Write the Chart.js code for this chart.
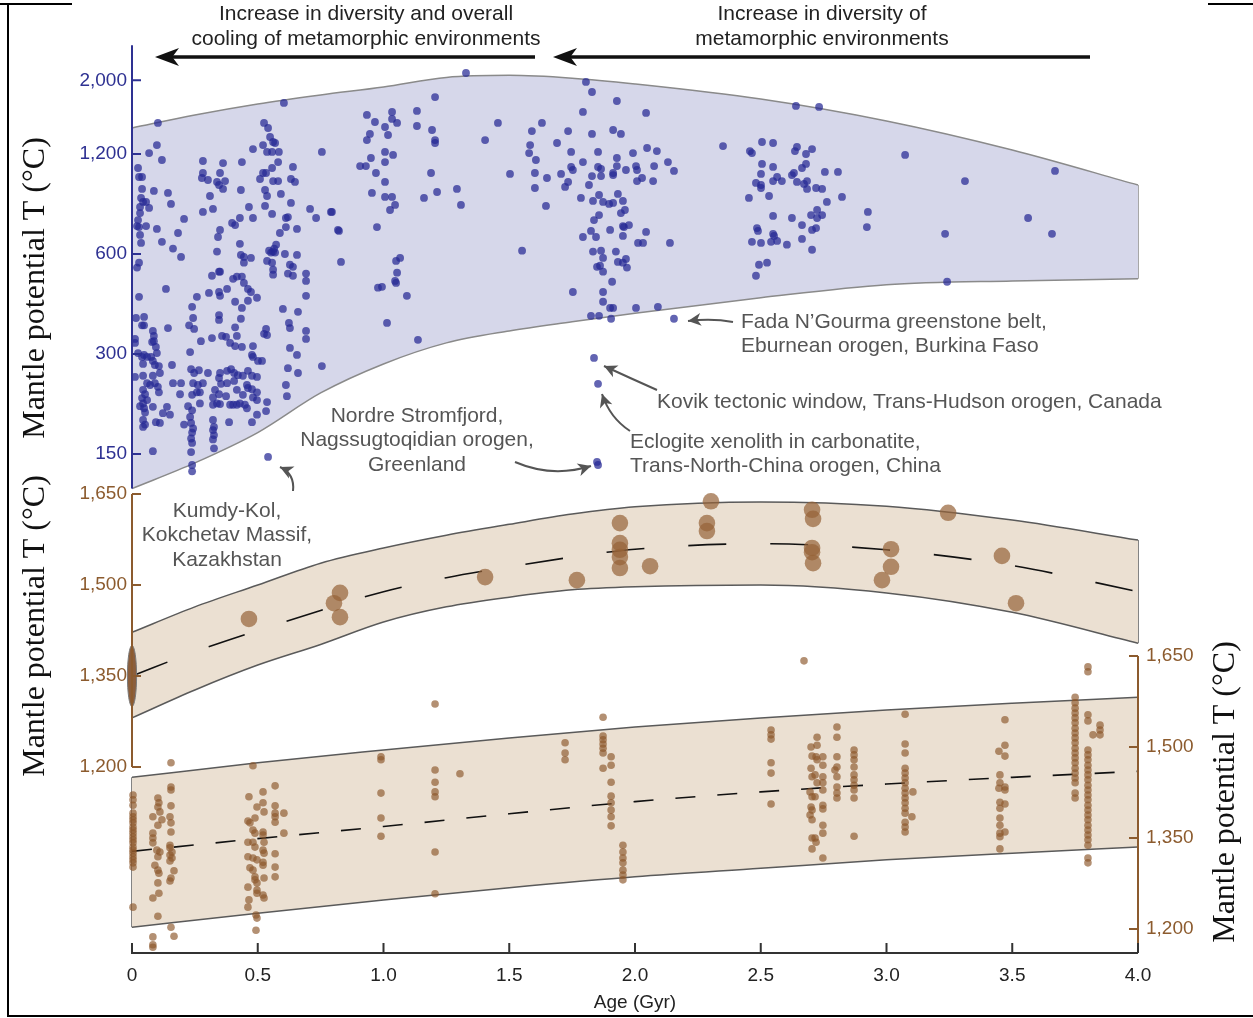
<!DOCTYPE html>
<html lang="en">
<head>
<meta charset="UTF-8">
<title>Metamorphic thermal gradients and mantle potential temperature through time</title>
<script src="https://cdn.jsdelivr.net/npm/chart.js"></script>
<style>
  html, body { margin: 0; padding: 0; background: #fff; }
  #wrap { width: 1253px; height: 1018px; }
</style>
</head>
<body>
<div id="wrap"><canvas id="chart" width="1253" height="1018"></canvas></div>
<script>
// ---- tick labels ----
const ageTicks = [0, 0.5, 1, 1.5, 2, 2.5, 3, 3.5, 4];
const topTicks = [150, 300, 600, 1200, 2000];
const midTicks = [1200, 1350, 1500, 1650];
const botTicks = [1200, 1350, 1500, 1650];

// ---- top panel: envelope of metamorphic samples (log axis) ----
const topGrid = [0, 0.25, 0.5, 0.75, 1.0, 1.25, 1.5, 1.75, 2.0, 2.5, 3.0, 3.5, 4.0];
const topBandUpper = [1437, 1572, 1697, 1806, 1909, 2040, 2070, 2030, 1950, 1757, 1509, 1234, 968];
const topBandLower = [118, 141, 174, 229, 280, 324, 352, 375, 398, 443, 485, 498, 505];

// ---- middle panel: mantle potential T model ----
const midGrid = [0, 0.25, 0.5, 0.75, 1.0, 1.25, 1.5, 1.75, 2.0, 2.5, 3.0, 3.5, 4.0];
const midBandUpper = [1422, 1464, 1500, 1536, 1561, 1582, 1600, 1617, 1629, 1637, 1630, 1607, 1574];
const midBandLower = [1281, 1327, 1368, 1402, 1439, 1464, 1480, 1492, 1497, 1500, 1487, 1455, 1404];
const midMean = [1350, 1390, 1425, 1458, 1489, 1512, 1530, 1546, 1559, 1568, 1558, 1532, 1489];
const presentDayTp = 1350;

// ---- bottom panel: mantle potential T from basalts ----
const botGrid = [0, 0.5, 1.0, 1.5, 2.0, 2.5, 3.0, 3.5, 4.0];
const botBandUpper = [1450, 1474, 1495, 1515, 1533, 1548, 1561, 1572, 1582];
const botBandLower = [1203, 1226, 1248, 1268, 1286, 1300, 1314, 1325, 1335];
const botMean = [1328, 1349, 1369, 1390, 1410, 1426, 1439, 1450, 1460];

// [age Gyr, value]
const topSamples = [
  [0.604,1710],[0.103,1488],[0.525,1488],[0.541,1437],[0.099,1277],[0.068,1208],[0.549,1350],[0.561,1304],[0.569,1295],[0.521,1277],
  [0.481,1242],[0.537,1217],[0.557,1217],[0.584,1217],[0.755,1217],[0.119,1151],[0.282,1143],[0.362,1127],[0.437,1135],[0.581,1135],
  [0.024,1089],[0.028,1023],[0.040,1023],[0.282,1052],[0.350,1052],[0.557,1089],[0.521,1052],[0.533,1052],[0.640,1097],[0.278,1016],
  [0.302,1002],[0.338,989],[0.346,968],[0.370,995],[0.509,1009],[0.561,995],[0.581,995],[0.632,1009],[0.648,989],[0.040,942],
  [0.087,929],[0.143,916],[0.155,849],[0.362,942],[0.433,935],[0.529,935],[0.537,897],[0.592,910],[0.036,885],[0.044,861],
  [0.056,861],[0.032,831],[0.068,826],[0.310,897],[0.322,820],[0.282,803],[0.465,831],[0.529,837],[0.632,855],[0.708,820],
  [0.732,770],[0.791,803],[0.032,797],[0.024,759],[0.557,792],[0.207,765],[0.398,744],[0.410,733],[0.429,770],[0.481,770],
  [0.612,770],[0.620,775],[0.612,723],[0.656,714],[0.020,728],[0.028,723],[0.056,728],[0.099,714],[0.350,709],[0.342,675],
  [0.819,709],[0.183,694],[0.032,685],[0.036,648],[0.119,653],[0.588,694],[0.573,640],[0.565,623],[0.553,606],[0.429,644],
  [0.163,623],[0.195,588],[0.338,610],[0.433,596],[0.445,588],[0.445,565],[0.473,584],[0.545,614],[0.561,610],[0.569,606],
  [0.608,600],[0.656,596],[0.028,565],[0.020,546],[0.537,572],[0.557,565],[0.561,538],[0.561,520],[0.628,557],[0.640,549],
  [0.620,524],[0.640,516],[0.692,524],[0.692,498],[0.346,531],[0.350,531],[0.318,516],[0.402,505],[0.417,513],[0.437,513],
  [0.445,491],[0.461,471],[0.473,461],[0.135,471],[0.306,458],[0.346,461],[0.350,449],[0.378,471],[0.258,446],[0.028,446],
  [0.692,449],[0.461,434],[0.497,443],[0.410,431],[0.437,413],[0.239,416],[0.600,410],[0.660,402],[0.016,385],[0.048,388],
  [0.040,366],[0.048,366],[0.243,385],[0.227,366],[0.346,393],[0.346,380],[0.433,383],[0.143,359],[0.247,357],[0.410,361],
  [0.533,357],[0.525,345],[0.537,342],[0.624,372],[0.628,359],[0.692,352],[0.692,333],[0.083,352],[0.087,340],[0.080,326],
  [0.087,328],[0.095,315],[0.099,302],[0.012,333],[0.012,324],[0.318,335],[0.358,340],[0.374,338],[0.417,340],[0.274,328],
  [0.390,324],[0.410,317],[0.437,315],[0.481,317],[0.628,313],[0.231,304],[0.024,302],[0.040,294],[0.048,298],[0.060,294],
  [0.076,294],[0.083,286],[0.477,298],[0.481,294],[0.501,286],[0.517,286],[0.656,298],[0.044,280],[0.091,278],[0.107,276],
  [0.111,263],[0.159,278],[0.755,276],[0.620,272],[0.012,256],[0.044,258],[0.083,258],[0.235,270],[0.247,263],[0.266,268],
  [0.302,263],[0.350,263],[0.378,267],[0.394,270],[0.406,263],[0.421,259],[0.441,258],[0.461,267],[0.477,258],[0.497,256],
  [0.660,263],[0.060,245],[0.072,242],[0.091,245],[0.103,239],[0.163,245],[0.195,245],[0.243,245],[0.262,242],[0.282,245],
  [0.346,254],[0.354,244],[0.378,245],[0.406,249],[0.457,242],[0.461,237],[0.477,235],[0.497,230],[0.612,242],[0.044,234],
  [0.052,227],[0.040,221],[0.060,218],[0.044,213],[0.107,230],[0.191,227],[0.239,226],[0.258,230],[0.270,230],[0.330,234],
  [0.322,222],[0.346,227],[0.374,224],[0.417,234],[0.441,226],[0.481,222],[0.497,218],[0.616,224],[0.537,215],[0.032,209],
  [0.048,206],[0.052,200],[0.083,208],[0.123,199],[0.139,208],[0.151,197],[0.223,209],[0.239,203],[0.231,194],[0.270,213],
  [0.322,211],[0.338,213],[0.350,212],[0.390,211],[0.402,211],[0.417,211],[0.429,213],[0.449,211],[0.457,206],[0.533,202],
  [0.497,197],[0.044,190],[0.052,184],[0.044,181],[0.095,187],[0.111,186],[0.207,184],[0.235,186],[0.243,179],[0.239,174],
  [0.322,190],[0.326,181],[0.322,177],[0.326,171],[0.322,166],[0.386,187],[0.477,187],[0.235,167],[0.239,162],[0.235,152],
  [0.326,156],[0.083,153],[0.239,139],[0.239,133],[0.541,147],
  [1.328,2104],[1.205,1781],[1.805,1978],[1.829,1844],[1.928,1733],[0.934,1573],[0.966,1498],[1.006,1447],[1.034,1606],[1.034,1530],
  [1.054,1488],[1.133,1618],[1.133,1457],[2.044,1595],[1.793,1606],[1.193,1417],[1.205,1322],[1.205,1295],[1.455,1488],[1.630,1488],
  [1.590,1407],[1.734,1407],[1.829,1379],[1.913,1417],[1.944,1379],[0.946,1379],[0.934,1322],[1.018,1369],[1.404,1322],[1.690,1295],
  [1.583,1277],[1.579,1208],[1.606,1151],[1.746,1217],[1.853,1217],[1.992,1208],[2.048,1251],[2.087,1225],[2.131,1135],[2.155,1067],
  [1.006,1217],[1.038,1192],[0.950,1167],[1.006,1135],[0.907,1104],[0.930,1104],[1.793,1135],[1.746,1097],[1.753,1074],[1.853,1097],
  [1.865,1082],[1.928,1167],[1.928,1104],[1.913,1052],[1.964,1074],[2.004,1104],[2.008,1074],[2.076,1104],[0.970,1052],[1.006,989],
  [1.189,1052],[1.503,1045],[1.602,1052],[1.650,1016],[1.706,1045],[1.734,989],[1.722,955],[1.829,1030],[1.865,1030],[1.817,968],
  [1.913,1037],[2.028,1016],[2.008,995],[2.072,995],[1.602,948],[0.954,916],[1.006,891],[1.034,891],[1.046,843],[1.026,814],
  [1.161,885],[1.213,922],[1.292,942],[1.308,843],[1.785,885],[1.833,867],[1.857,903],[1.873,861],[1.897,849],[1.913,855],
  [1.932,910],[1.952,867],[1.960,814],[1.944,797],[1.646,837],[0.795,803],[1.857,786],[1.837,759],[1.952,728],[1.976,733],
  [1.956,723],[1.901,709],[1.952,680],[2.044,699],[2.012,648],[2.032,648],[2.139,648],[0.823,704],[0.974,723],[1.825,704],
  [1.793,675],[1.845,675],[1.551,614],[1.833,610],[1.865,614],[1.873,584],[1.924,610],[1.932,568],[1.952,565],[1.964,580],
  [1.968,546],[1.849,549],[1.861,553],[1.873,531],[0.831,568],[1.050,572],[1.066,584],[1.054,527],[1.046,498],[1.050,491],
  [0.978,475],[0.994,478],[1.093,449],[1.909,495],[1.753,461],[1.873,461],[1.873,431],[1.901,413],[1.913,413],[2.004,413],
  [2.091,416],[1.825,391],[1.857,391],[1.905,383],[2.155,383],[1.014,372],[1.137,331],
  [2.640,1674],[2.732,1663],[2.350,1268],[2.505,1304],[2.549,1295],[2.457,1225],[2.465,1208],[2.644,1260],[2.636,1225],[2.704,1242],
  [2.680,1200],[3.074,1192],[2.505,1120],[2.549,1097],[2.501,1045],[2.565,1023],[2.584,995],[2.549,995],[2.481,982],[2.501,968],
  [2.501,948],[2.680,1120],[2.664,1089],[2.632,1052],[2.624,1037],[2.644,989],[2.684,995],[2.672,975],[2.684,942],[2.720,948],
  [2.744,942],[2.755,1060],[2.807,1060],[3.670,1067],[3.312,995],[2.453,885],[2.533,897],[2.823,891],[2.763,861],[2.549,781],
  [2.624,770],[2.664,733],[2.700,786],[2.724,814],[2.724,770],[2.744,786],[2.720,718],[2.704,709],[2.926,803],[2.922,723],
  [3.563,770],[2.485,718],[2.489,704],[2.549,690],[2.553,680],[3.233,690],[3.658,690],[2.465,653],[2.501,648],[2.541,653],
  [2.565,657],[2.604,640],[2.664,666],[2.704,618],[2.493,557],[2.525,565],[2.481,516],[3.241,495],
  [1.837,292],[1.853,244],[1.849,142],[1.853,139]
];

const midSamples = [
  [0.465,1444],[0.827,1487],[0.803,1470],[0.827,1447],[1.404,1513],[1.769,1508],[1.940,1602],[1.940,1569],[1.940,1558],
  [1.940,1546],[1.940,1528],[2.060,1531],[2.302,1638],[2.286,1602],[2.286,1589],[2.704,1624],[2.708,1609],[2.704,1561],
  [2.704,1554],[2.708,1536],[3.245,1619],[3.018,1559],[3.018,1530],[2.982,1508],[3.459,1548],[3.515,1470]
];

const botSamples = [
  [0.004,1421],[0.004,1413],[0.004,1404],[0.004,1391],[0.004,1385],[0.004,1380],[0.004,1375],[0.004,1368],[0.004,1363],[0.004,1358],
  [0.004,1352],[0.004,1347],[0.004,1342],[0.004,1335],[0.004,1330],[0.004,1325],[0.004,1319],[0.004,1314],[0.004,1309],[0.004,1302],
  [0.004,1236],
  [0.103,1416],[0.107,1408],[0.103,1401],[0.111,1393],[0.083,1385],[0.119,1380],[0.103,1371],[0.083,1358],[0.083,1350],[0.083,1342],
  [0.099,1330],[0.111,1327],[0.103,1319],[0.091,1305],[0.103,1297],[0.107,1292],[0.103,1276],[0.107,1259],[0.083,1251],[0.103,1221],
  [0.083,1187],[0.083,1174],[0.083,1170],
  [0.155,1474],[0.155,1434],[0.155,1429],[0.155,1403],[0.151,1385],[0.155,1375],[0.155,1360],[0.151,1338],[0.151,1334],[0.159,1327],
  [0.151,1322],[0.159,1317],[0.151,1312],[0.167,1296],[0.155,1284],[0.151,1279],[0.155,1203],[0.167,1188],
  [0.481,1469],[0.465,1418],[0.497,1401],[0.489,1383],[0.461,1378],[0.469,1375],[0.481,1363],[0.489,1358],[0.461,1343],[0.481,1343],
  [0.489,1335],[0.461,1319],[0.481,1317],[0.497,1314],[0.469,1301],[0.481,1297],[0.489,1286],[0.489,1281],[0.497,1276],[0.461,1269],
  [0.497,1264],[0.497,1259],[0.465,1248],[0.461,1236],[0.493,1223],[0.497,1218],[0.493,1198],
  [0.521,1426],[0.521,1408],[0.525,1393],[0.521,1360],[0.521,1355],[0.525,1343],[0.521,1330],[0.525,1325],[0.521,1310],[0.521,1305],
  [0.525,1284],[0.521,1256],[0.525,1251],
  [0.569,1436],[0.569,1403],[0.569,1391],[0.569,1385],[0.569,1376],[0.569,1324],[0.569,1302],[0.569,1286],[0.604,1391],[0.604,1358],
  [0.990,1484],[0.990,1479],[0.990,1424],[0.990,1383],[0.990,1353],
  [1.205,1571],[1.205,1462],[1.205,1442],[1.205,1426],[1.205,1418],[1.205,1327],[1.205,1258],[1.304,1456],
  [1.722,1507],[1.722,1490],[1.722,1479],
  [1.873,1549],[1.873,1518],[1.873,1512],[1.873,1505],[1.873,1498],[1.873,1490],[1.873,1465],
  [1.905,1484],[1.905,1470],[1.905,1442],[1.905,1419],[1.905,1408],[1.905,1396],[1.905,1385],[1.905,1370],
  [1.952,1338],[1.952,1327],[1.952,1317],[1.952,1309],[1.952,1297],[1.952,1289],[1.952,1281],
  [2.672,1642],
  [2.541,1528],[2.541,1520],[2.541,1513],[2.541,1474],[2.541,1457],[2.541,1406],
  [2.700,1500],[2.704,1485],[2.700,1465],[2.704,1451],[2.696,1426],[2.704,1418],[2.716,1418],[2.700,1401],[2.704,1396],[2.696,1388],
  [2.704,1380],[2.704,1350],[2.704,1332],[2.724,1516],[2.724,1503],[2.720,1484],[2.724,1479],[2.716,1454],[2.724,1441],[2.716,1350],
  [2.720,1343],
  [2.747,1484],[2.747,1470],[2.747,1451],[2.747,1441],[2.747,1429],[2.747,1404],[2.747,1398],[2.747,1371],[2.747,1358],[2.747,1317],
  [2.803,1533],[2.803,1516],[2.803,1484],[2.803,1467],[2.795,1462],[2.803,1451],[2.803,1434],[2.803,1424],[2.803,1416],
  [2.871,1495],[2.871,1487],[2.871,1479],[2.871,1467],[2.871,1454],[2.871,1446],[2.871,1437],[2.871,1429],[2.871,1416],[2.871,1353],
  [3.074,1554],[3.074,1505],[3.074,1490],[3.074,1465],[3.074,1457],[3.074,1449],[3.074,1441],[3.074,1432],[3.074,1424],[3.074,1416],
  [3.074,1408],[3.074,1399],[3.074,1391],[3.074,1376],[3.074,1368],[3.074,1360],[3.105,1426],[3.101,1385],
  [3.471,1545],[3.471,1503],[3.447,1493],[3.471,1485],[3.451,1454],[3.451,1441],[3.447,1432],[3.471,1434],[3.471,1429],[3.451,1409],
  [3.471,1406],[3.451,1399],[3.451,1383],[3.451,1371],[3.471,1360],[3.451,1358],[3.451,1352],[3.451,1332],
  [3.750,1582],[3.750,1573],[3.750,1564],[3.750,1556],[3.750,1548],[3.750,1540],[3.750,1531],[3.750,1523],[3.750,1515],[3.750,1507],
  [3.750,1498],[3.750,1490],[3.750,1482],[3.750,1474],[3.750,1465],[3.750,1457],[3.750,1449],[3.750,1441],[3.750,1424],[3.750,1416],
  [3.801,1632],[3.801,1624],[3.801,1553],[3.801,1543],[3.801,1495],[3.801,1487],[3.801,1479],[3.801,1470],[3.801,1462],[3.801,1454],
  [3.801,1446],[3.801,1437],[3.801,1429],[3.801,1421],[3.801,1413],[3.801,1404],[3.801,1396],[3.801,1388],[3.801,1380],[3.801,1371],
  [3.801,1363],[3.801,1355],[3.801,1347],[3.801,1338],[3.801,1317],[3.801,1309],
  [3.849,1536],[3.849,1528],[3.821,1520],[3.849,1520]
];

// ---- look ----
const BLUE = '#2e3192';
const BLUE_DOT = 'rgba(38, 40, 148, 0.72)';
const LAVENDER = '#d6d7ea';
const TAN = '#ebe0d2';
const BROWN = '#8c5b2e';
const BROWN_DOT = 'rgba(140, 86, 42, 0.66)';
const BIG_DOT = 'rgba(150, 98, 55, 0.7)';
const INK = '#222';
const NOTE = '#555';
const AXIS_TITLE = 'Mantle potential T (\u00b0C)';
const tickFont = { family: '"Liberation Sans", Arial, sans-serif', size: 19 };

// page layout: chart area, and the split between the two stacked left axes
const AREA = { left: 132, right: 1138, top: 0, bottom: 953 };
const SPLIT = 490;

// min/max that put tick values at the wanted pixels inside a scale box [top, bottom]
function linearSpan(v0, p0, v1, p1, top, bottom) {
  const perPx = (v1 - v0) / (p0 - p1);
  return { min: v0 - (bottom - p0) * perPx, max: v0 + (p0 - top) * perPx };
}
function logSpan(v0, p0, pxPerDoubling, top, bottom) {
  return { min: v0 / Math.pow(2, (bottom - p0) / pxPerDoubling), max: v0 * Math.pow(2, (p0 - top) / pxPerDoubling) };
}
const topSpan = logSpan(150, 454, 100, AREA.top, SPLIT);
const midSpan = linearSpan(1200, 767, 1650, 494, SPLIT, AREA.bottom);
const botSpan = linearSpan(1200, 929, 1650, 656, AREA.top, AREA.bottom);

const pts = (xs, ys) => xs.map((x, i) => ({ x, y: ys[i] }));
const pairs = list => list.map(([x, y]) => ({ x, y }));
const fixWidth = w => s => { s.width = w; s.paddingTop = 0; s.paddingBottom = 0; };

function bandLine(data, axis, color, fill, bg) {
  return { type: 'line', data, yAxisID: axis, borderColor: color, borderWidth: 1.5, pointRadius: 0,
    cubicInterpolationMode: 'monotone', fill: fill || false, backgroundColor: bg, order: 5, clip: false };
}

// present-day Tp marker drawn as an ellipse
const ellipse = document.createElement('canvas');
ellipse.width = 12; ellipse.height = 64;
const ec = ellipse.getContext('2d');
ec.beginPath(); ec.ellipse(6, 32, 4.6, 30.5, 0, 0, Math.PI * 2);
ec.fillStyle = '#8b5e3c'; ec.fill(); ec.strokeStyle = '#7a7a7a'; ec.lineWidth = 1; ec.stroke();

function yScale(extra) {
  return Object.assign({
    bounds: 'data', clip: false,
    grid: { display: false, drawTicks: false }, border: { display: false }
  }, extra);
}

function arrowHead(ctx, x, y, angle, len, half) {
  ctx.save(); ctx.translate(x, y); ctx.rotate(angle);
  ctx.beginPath(); ctx.moveTo(0, 0); ctx.lineTo(-len, -half); ctx.lineTo(-len * 0.72, 0); ctx.lineTo(-len, half);
  ctx.closePath(); ctx.fill(); ctx.restore();
}

function vAxis(ctx, scale, px, y0, y1, ticks, dir, color) {
  ctx.strokeStyle = color; ctx.lineWidth = 2;
  ctx.beginPath();
  ctx.moveTo(px, y0); ctx.lineTo(px, y1);
  ticks.forEach(v => { const y = scale.getPixelForValue(v); ctx.moveTo(px, y); ctx.lineTo(px + dir * 9, y); });
  ctx.stroke();
}

const notes = [
  { lines: ['Fada N\u2019Gourma greenstone belt,', 'Eburnean orogen, Burkina Faso'], x: 741, y: 322, align: 'left' },
  { lines: ['Kovik tectonic window, Trans-Hudson orogen, Canada'], x: 657, y: 402, align: 'left' },
  { lines: ['Eclogite xenolith in carbonatite,', 'Trans-North-China orogen, China'], x: 630, y: 442, align: 'left' },
  { lines: ['Nordre Stromfjord,', 'Nagssugtoqidian orogen,', 'Greenland'], x: 417, y: 416, align: 'center' },
  { lines: ['Kumdy-Kol,', 'Kokchetav Massif,', 'Kazakhstan'], x: 227, y: 511, align: 'center' }
];
const noteArrows = [
  [[733, 322], [712, 318], [688, 321]],
  [[657, 390], [630, 378], [604, 366]],
  [[630, 431], [610, 418], [602, 394]],
  [[515, 462], [552, 478], [591, 466]],
  [[293, 491], [295, 474], [280, 467]]
];

const decor = {
  id: 'decor',
  afterDraw(chart) {
    const { ctx, chartArea, scales } = chart;
    const { x, yTop, yMid, yBot } = scales;
    ctx.save();

    // axes
    vAxis(ctx, yTop, chartArea.left, yTop.getPixelForValue(2550), yTop.getPixelForValue(topBandLower[0]), topTicks, 1, BLUE);
    vAxis(ctx, yMid, chartArea.left, yMid.getPixelForValue(1650), yMid.getPixelForValue(1200), midTicks, 1, BROWN);
    vAxis(ctx, yBot, chartArea.right, yBot.getPixelForValue(1650), chartArea.bottom, botTicks, -1, BROWN);
    ctx.strokeStyle = '#333'; ctx.lineWidth = 2;
    ctx.beginPath();
    ctx.moveTo(x.getPixelForValue(0) - 1, chartArea.bottom); ctx.lineTo(x.getPixelForValue(4), chartArea.bottom);
    ageTicks.forEach(v => { const px = x.getPixelForValue(v); ctx.moveTo(px, chartArea.bottom); ctx.lineTo(px, chartArea.bottom - 10); });
    ctx.stroke();

    // axis titles
    ctx.fillStyle = '#111';
    ctx.font = '32px "Liberation Serif", "Times New Roman", serif';
    ctx.textAlign = 'center'; ctx.textBaseline = 'middle';
    [[36, 288], [36, 626], [1226, 792]].forEach(([cx, cy]) => {
      ctx.save(); ctx.translate(cx, cy); ctx.rotate(-Math.PI / 2); ctx.fillText(AXIS_TITLE, 0, 0); ctx.restore();
    });

    // headline arrows
    ctx.fillStyle = INK;
    ctx.font = '21px "Liberation Sans", Arial, sans-serif';
    ctx.fillText('Increase in diversity and overall', 366, 14);
    ctx.fillText('cooling of metamorphic environments', 366, 39);
    ctx.fillText('Increase in diversity of', 822, 14);
    ctx.fillText('metamorphic environments', 822, 39);
    ctx.strokeStyle = '#111'; ctx.fillStyle = '#111'; ctx.lineWidth = 3.5;
    [[535, 155], [1090, 553]].forEach(([x0, x1]) => {
      ctx.beginPath(); ctx.moveTo(x0, 57); ctx.lineTo(x1 + 12, 57); ctx.stroke();
      arrowHead(ctx, x1, 57, Math.PI, 24, 9);
    });

    // sample notes
    ctx.fillStyle = NOTE;
    ctx.font = '21px "Liberation Sans", Arial, sans-serif';
    notes.forEach(n => {
      ctx.textAlign = n.align;
      n.lines.forEach((t, i) => ctx.fillText(t, n.x, n.y + i * 24.5));
    });
    ctx.strokeStyle = NOTE; ctx.lineWidth = 2;
    noteArrows.forEach(([a, c, b]) => {
      ctx.beginPath(); ctx.moveTo(a[0], a[1]); ctx.quadraticCurveTo(c[0], c[1], b[0], b[1]); ctx.stroke();
      arrowHead(ctx, b[0], b[1], Math.atan2(b[1] - c[1], b[0] - c[0]), 13, 6.5);
    });

    // frame
    ctx.strokeStyle = '#000'; ctx.lineWidth = 2;
    ctx.beginPath();
    ctx.moveTo(0, 4); ctx.lineTo(72, 4);
    ctx.moveTo(1208, 4); ctx.lineTo(1253, 4);
    ctx.moveTo(8, 4); ctx.lineTo(8, 1016); ctx.lineTo(1253, 1016);
    ctx.stroke();
    ctx.restore();
  }
};

Chart.defaults.font.family = '"Liberation Sans", Arial, sans-serif';

new Chart(document.getElementById('chart'), {
  type: 'scatter',
  data: {
    datasets: [
      { data: [{ x: 0, y: presentDayTp }], yAxisID: 'yMid', pointStyle: ellipse, order: 0, clip: false },
      { data: pairs(topSamples), yAxisID: 'yTop', pointRadius: 3.9, backgroundColor: BLUE_DOT, borderWidth: 0, order: 1, clip: false },
      { data: pairs(midSamples), yAxisID: 'yMid', pointRadius: 8.3, backgroundColor: BIG_DOT, borderWidth: 0, order: 1, clip: false },
      { data: pairs(botSamples), yAxisID: 'yBot', pointRadius: 3.8, backgroundColor: BROWN_DOT, borderWidth: 0, order: 1, clip: false },
      { type: 'line', data: pts(midGrid, midMean), yAxisID: 'yMid', borderColor: '#111', borderWidth: 1.6, borderDash: [38, 44],
        pointRadius: 0, cubicInterpolationMode: 'monotone', fill: false, order: 3, clip: false },
      { type: 'line', data: pts(botGrid, botMean), yAxisID: 'yBot', borderColor: '#111', borderWidth: 1.6, borderDash: [20, 22],
        pointRadius: 0, cubicInterpolationMode: 'monotone', fill: false, order: 3, clip: false },
      bandLine(pts(topGrid, topBandUpper), 'yTop', '#8a8a8a'),
      bandLine(pts(topGrid, topBandLower), 'yTop', '#8a8a8a', '-1', LAVENDER),
      bandLine([{ x: 4, y: topBandUpper[topBandUpper.length - 1] }, { x: 4, y: topBandLower[topBandLower.length - 1] }], 'yTop', '#8a8a8a'),
      bandLine(pts(midGrid, midBandUpper), 'yMid', '#5a5a5a'),
      bandLine(pts(midGrid, midBandLower), 'yMid', '#5a5a5a', '-1', TAN),
      bandLine([{ x: 4, y: midBandUpper[midBandUpper.length - 1] }, { x: 4, y: midBandLower[midBandLower.length - 1] }], 'yMid', '#5a5a5a'),
      bandLine(pts(botGrid, botBandUpper), 'yBot', '#5a5a5a'),
      bandLine(pts(botGrid, botBandLower), 'yBot', '#5a5a5a', '-1', TAN),
      bandLine([{ x: 0, y: botBandUpper[0] }, { x: 0, y: botBandLower[0] }], 'yBot', '#5a5a5a'),
      bandLine([{ x: 4, y: botBandUpper[botBandUpper.length - 1] }, { x: 4, y: botBandLower[botBandLower.length - 1] }], 'yBot', '#5a5a5a')
    ]
  },
  options: {
    responsive: false,
    devicePixelRatio: 1,
    animation: false,
    events: [],
    layout: { autoPadding: false, padding: 0 },
    plugins: { legend: { display: false }, tooltip: { enabled: false } },
    scales: {
      x: {
        type: 'linear', position: 'bottom', min: 0, max: 4, bounds: 'data',
        afterBuildTicks: s => { s.ticks = ageTicks.map(v => ({ value: v })); },
        afterFit: s => { s.height = 1018 - AREA.bottom; s.paddingLeft = 0; s.paddingRight = 0; },
        grid: { display: false, drawTicks: false }, border: { display: false },
        ticks: { color: INK, font: tickFont, padding: 11, maxRotation: 0, autoSkip: false,
          callback: v => (v === 0 ? '0' : v.toFixed(1)) },
        title: { display: true, text: 'Age (Gyr)', color: INK, font: tickFont, padding: { top: 0, bottom: 4 } }
      },
      yTop: yScale({
        type: 'logarithmic', position: 'left', stack: 'left', weight: 2, stackWeight: SPLIT - AREA.top,
        min: topSpan.min, max: topSpan.max, afterFit: fixWidth(AREA.left),
        afterBuildTicks: s => { s.ticks = topTicks.map(v => ({ value: v })); },
        ticks: { color: BLUE, font: tickFont, padding: 5, autoSkip: false, callback: v => v.toLocaleString('en-US') }
      }),
      yMid: yScale({
        type: 'linear', position: 'left', stack: 'left', weight: 1, stackWeight: AREA.bottom - SPLIT,
        min: midSpan.min, max: midSpan.max, afterFit: fixWidth(AREA.left),
        afterBuildTicks: s => { s.ticks = midTicks.map(v => ({ value: v })); },
        ticks: { color: BROWN, font: tickFont, padding: 5, autoSkip: false, callback: v => v.toLocaleString('en-US') }
      }),
      yBot: yScale({
        type: 'linear', position: 'right', min: botSpan.min, max: botSpan.max, afterFit: fixWidth(1253 - AREA.right),
        afterBuildTicks: s => { s.ticks = botTicks.map(v => ({ value: v })); },
        ticks: { color: BROWN, font: tickFont, padding: 8, autoSkip: false, callback: v => v.toLocaleString('en-US') }
      })
    }
  },
  plugins: [decor]
});
</script>
</body>
</html>
